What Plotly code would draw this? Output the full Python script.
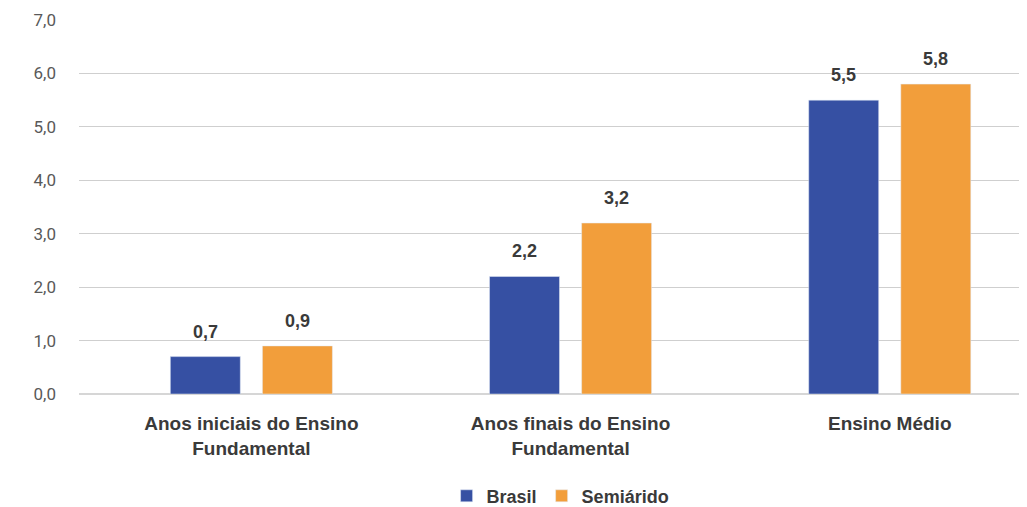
import plotly.graph_objects as go

categories = ["Anos iniciais do Ensino<br>Fundamental", "Anos finais do Ensino<br>Fundamental", "Ensino Médio"]
brasil = [0.7, 2.2, 5.5]
semiarido = [0.9, 3.2, 5.8]
y_ticks = [0, 1, 2, 3, 4, 5, 6, 7]

BLUE = "#3650A3"
ORANGE = "#F29E3B"
FONT = "Roboto"
BFONT = "Liberation Sans"
TXT = "#3a3a3a"

fig = go.Figure()
fig.add_trace(go.Bar(name="Brasil", x=categories, y=brasil, marker_color=BLUE))
fig.add_trace(go.Bar(name="Semiárido", x=categories, y=semiarido, marker_color=ORANGE))

ann = []
for series, shift in ((brasil, -46), (semiarido, 46)):
    for c, v in zip(categories, series):
        ann.append(dict(x=c, y=v, xref="x", yref="y", text="<b>" + f"{v:.1f}".replace(".", ",") + "</b>",
                        showarrow=False, xshift=shift, yanchor="bottom", yshift=13,
                        font=dict(family=BFONT, size=18, color=TXT)))

# page body has an 8px margin, so the figure is offset by (8, 8)
fig.update_layout(
    width=1019, height=499,
    margin=dict(l=71, r=0, t=12, b=113, autoexpand=False),
    paper_bgcolor="white", plot_bgcolor="white",
    separators=",.",
    barmode="group", bargap=0.423, bargroupgap=0.24,
    font=dict(family=FONT),
    annotations=ann,
    legend=dict(orientation="h", x=0.508, xanchor="center", y=-0.273, yanchor="middle",
                font=dict(family=BFONT, size=18, color=TXT, weight="bold"),
                itemwidth=30, tracegroupgap=0),
    showlegend=True,
)
fig.update_xaxes(range=[-0.54, 2.43], showgrid=False, showline=False, zeroline=False, automargin=False,
                 tickfont=dict(family=BFONT, size=19, color=TXT, weight="bold"), ticks="",
                 ticklabelstandoff=16)
fig.update_yaxes(range=[0, 7], tickvals=y_ticks, tickformat=".1f", showgrid=True, gridcolor="#cfcfcf",
                 gridwidth=1, zeroline=True, zerolinecolor="#d6d6d6", zerolinewidth=2, showline=False,
                 automargin=False,
                 tickfont=dict(family=FONT, size=17, color="#595959"), ticklabelstandoff=22, ticks="")

fig.write_html("out.html")
